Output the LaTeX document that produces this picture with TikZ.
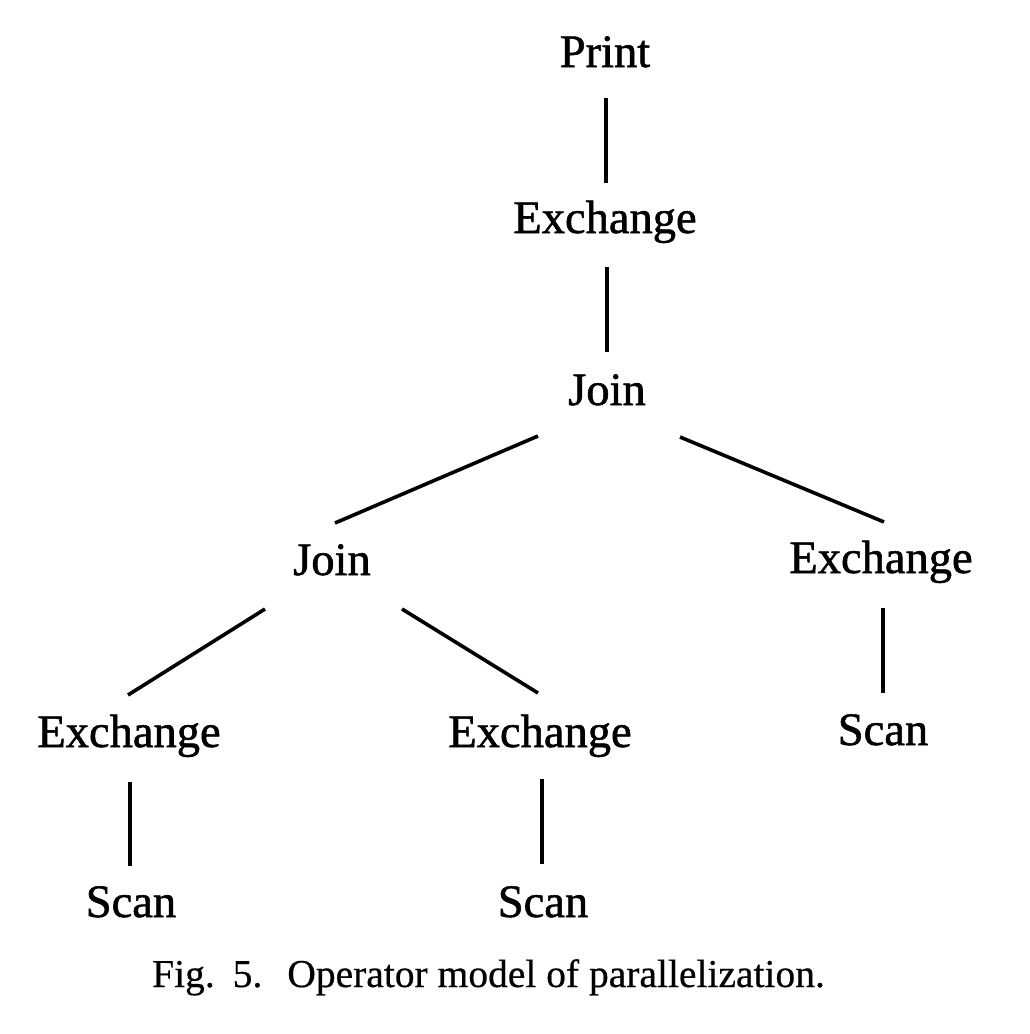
\documentclass[tikz,border=0pt]{standalone}
\usepackage{fontspec}
\setmainfont{Liberation Serif}
\newfontfamily\opfont{Liberation Serif}[FakeBold=1.2]
\newfontfamily\capfont{Liberation Serif}[FakeBold=0.5]
\begin{document}
\begin{tikzpicture}[x=1pt,y=-1pt,
  op/.style={font=\opfont\fontsize{46.5}{52}\selectfont, inner sep=0pt, anchor=base},
  edge/.style={line width=3.6pt}]
\useasboundingbox[fill=white] (0,0) rectangle (1030,1034);
\node[op] (print) at (605,67) {Print};
\node[op] (ex1) at (605,233) {Exchange};
\node[op] (join1) at (607,405) {Join};
\node[op] (join2) at (332,575) {Join};
\node[op] (ex2) at (881,573) {Exchange};
\node[op] (scan3) at (883,745) {Scan};
\node[op] (ex3) at (129,747) {Exchange};
\node[op] (ex4) at (540,747) {Exchange};
\node[op] (scan1) at (131,917) {Scan};
\node[op] (scan2) at (543,917) {Scan};
\node[font=\capfont\fontsize{39.5}{44}\selectfont, inner sep=0pt, anchor=base] (cap) at (488.5,987) {Fig.\hspace{18pt}5.\hspace{25pt}Operator model of parallelization.};
\draw[edge] ([shift={(1,31)}]print.base) -- ([shift={(1,-50)}]ex1.base);
\draw[edge] ([shift={(2,34)}]ex1.base) -- ([shift={(0,-53)}]join1.base);
\draw[edge] ([shift={(-69,31)}]join1.base) -- ([shift={(3,-52)}]join2.base);
\draw[edge] ([shift={(73,32)}]join1.base) -- ([shift={(3,-51)}]ex2.base);
\draw[edge] ([shift={(2,35)}]ex2.base) -- ([shift={(0,-52)}]scan3.base);
\draw[edge] ([shift={(-67,34)}]join2.base) -- ([shift={(-1,-52)}]ex3.base);
\draw[edge] ([shift={(70,34)}]join2.base) -- ([shift={(-2,-54)}]ex4.base);
\draw[edge] ([shift={(1,35)}]ex3.base) -- ([shift={(-1,-51)}]scan1.base);
\draw[edge] ([shift={(2,32)}]ex4.base) -- ([shift={(-1,-53)}]scan2.base);
\end{tikzpicture}
\end{document}
